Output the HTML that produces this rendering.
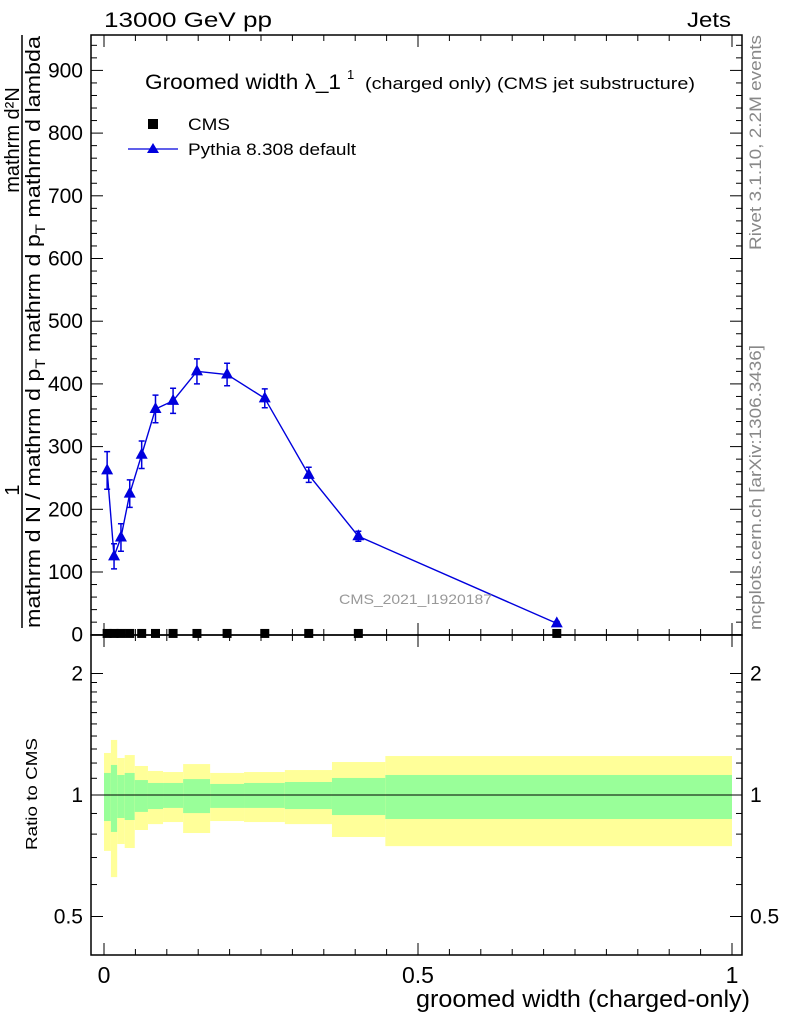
<!DOCTYPE html>
<html><head><meta charset="utf-8"><style>
html,body{margin:0;padding:0;background:#fff}
svg{display:block;font-family:"Liberation Sans",Arial,sans-serif}
</style></head><body>
<svg id="chart" width="786" height="1024" viewBox="0 0 786 1024" xmlns="http://www.w3.org/2000/svg">
<g id="bands"></g>
<g id="axes"></g>
<g id="series"></g>
<text x="104" y="27" font-size="21" textLength="168" lengthAdjust="spacingAndGlyphs">13000 GeV pp</text>
<text x="687" y="27" font-size="21" textLength="44" lengthAdjust="spacingAndGlyphs">Jets</text>
<text x="145" y="89" font-size="21" textLength="196" lengthAdjust="spacingAndGlyphs">Groomed width λ_1</text>
<text x="347" y="79" font-size="13">1</text>
<text x="365" y="89" font-size="17" textLength="330" lengthAdjust="spacingAndGlyphs">(charged only) (CMS jet substructure)</text>
<rect x="148" y="119" width="10" height="10" fill="#000"/>
<text x="188" y="130" font-size="17" textLength="42" lengthAdjust="spacingAndGlyphs">CMS</text>
<line x1="128" y1="149" x2="178" y2="149" stroke="#0000dd" stroke-width="1.3"/>
<polygon points="153,143 159,153 147,153" fill="#0000dd"/>
<text x="188" y="155" font-size="17" textLength="168" lengthAdjust="spacingAndGlyphs">Pythia 8.308 default</text>
<text x="339" y="604" font-size="14" fill="#999" textLength="153" lengthAdjust="spacingAndGlyphs">CMS_2021_I1920187</text>
<text x="416" y="1007" font-size="24" textLength="334" lengthAdjust="spacingAndGlyphs">groomed width (charged-only)</text>
<text transform="translate(37,850) rotate(-90)" font-size="16" textLength="112" lengthAdjust="spacingAndGlyphs">Ratio to CMS</text>
<text transform="translate(761,250) rotate(-90)" font-size="17" fill="#888" textLength="215" lengthAdjust="spacingAndGlyphs">Rivet 3.1.10,  2.2M events</text>
<text transform="translate(761,630) rotate(-90)" font-size="17" fill="#888" textLength="285" lengthAdjust="spacingAndGlyphs">mcplots.cern.ch [arXiv:1306.3436]</text>
<g>
<line x1="22" y1="35" x2="22" y2="628" stroke="#000" stroke-width="1.5"/>
<text transform="translate(19,490) rotate(-90)" font-size="20" text-anchor="middle">1</text>
<text transform="translate(19,140) rotate(-90)" font-size="20" text-anchor="middle">mathrm d²N</text>
<text transform="translate(40,628) rotate(-90)" font-size="20" textLength="592" lengthAdjust="spacingAndGlyphs">mathrm d N / mathrm d p<tspan font-size="14" dy="5">T</tspan><tspan dy="-5"> mathrm d p</tspan><tspan font-size="14" dy="5">T</tspan><tspan dy="-5"> mathrm d lambda</tspan></text>
</g>
</svg>
<script>
// data
const binEdges = [0, 0.011, 0.021, 0.033, 0.049, 0.07, 0.094, 0.126, 0.169, 0.223, 0.288, 0.363, 0.448, 1.0];
const pointX = [0.005, 0.016, 0.027, 0.041, 0.06, 0.082, 0.11, 0.148, 0.196, 0.256, 0.326, 0.405, 0.721];
const pythiaValues = [262, 125, 155, 225, 287, 360, 373, 420, 415, 377, 255, 157, 18];
const pythiaErrors = [30, 20, 22, 22, 22, 22, 20, 20, 18, 15, 12, 8, 3];
const cmsValues = [2, 2, 2, 2, 2, 2, 2, 2, 2, 2, 2, 2, 2];
const greenUp = [1.134,1.187,1.121,1.134,1.089,1.071,1.071,1.095,1.065,1.071,1.077,1.102,1.121];
const greenLo = [0.862,0.810,0.877,0.867,0.908,0.923,0.929,0.902,0.929,0.929,0.923,0.892,0.872];
const yellowUp = [1.271,1.369,1.235,1.256,1.180,1.147,1.140,1.193,1.134,1.140,1.153,1.207,1.249];
const yellowLo = [0.727,0.626,0.756,0.739,0.819,0.847,0.857,0.805,0.862,0.857,0.847,0.787,0.747];
const mainTicks = [0,100,200,300,400,500,600,700,800,900];
const ratioTicks = [0.5, 1, 2];
const ratioTickLabels = ["0.5","1","2"];
const xTicks = [0, 0.5, 1];
const xTickLabels = ["0","0.5","1"];

const NS = "http://www.w3.org/2000/svg";
const L = 91, R = 742, T = 35, MB = 635, RB = 955;
const sx = v => 104 + v * 628;
const sy = v => 634.7 - v * 0.627;
const sr = v => 795 - Math.log2(v) * 121.5;
function mk(tag, attrs, parent) {
  const e = document.createElementNS(NS, tag);
  for (const k in attrs) e.setAttribute(k, attrs[k]);
  parent.appendChild(e);
  return e;
}
const bands = document.getElementById('bands');
const axes = document.getElementById('axes');
const series = document.getElementById('series');

for (let i = 0; i < pointX.length; i++) {
  const x0 = sx(binEdges[i]), x1 = sx(binEdges[i+1]);
  const y = mk('rect', {x: x0, y: sr(yellowUp[i]), width: x1 - x0, height: sr(yellowLo[i]) - sr(yellowUp[i]), fill: '#ffff99'}, bands);
  
  
  const g = mk('rect', {x: x0, y: sr(greenUp[i]), width: x1 - x0, height: sr(greenLo[i]) - sr(greenUp[i]), fill: '#99ff99'}, bands);
  
  
}
const one = mk('line', {x1: L, x2: R, y1: sr(1), y2: sr(1), stroke: '#000', 'stroke-width': 1}, bands);



const f1 = mk('rect', {x: L, y: T, width: R - L, height: MB - T, fill: 'none', stroke: '#000', 'stroke-width': 1.5}, axes);


const f2 = mk('rect', {x: L, y: MB, width: R - L, height: RB - MB, fill: 'none', stroke: '#000', 'stroke-width': 1.5}, axes);



for (let v = 0; v <= 940; v += 20) {
  const y = sy(v); if (y < T) continue;
  const maj = v % 100 === 0, len = maj ? 12 : 6;
  mk('line', {x1: L, x2: L + len, y1: y, y2: y, stroke: '#000', 'stroke-width': 1}, axes);
  mk('line', {x1: R, x2: R - len, y1: y, y2: y, stroke: '#000', 'stroke-width': 1}, axes);
}
mainTicks.forEach(v => {
  const t = mk('text', {x: 83, y: sy(v) + 7, 'font-size': 21, 'text-anchor': 'end'}, axes);
  t.textContent = v;
  
  
});
const rMinor = [0.5,0.6,0.7,0.8,0.9,1,1.1,1.2,1.3,1.4,1.5,1.6,1.7,1.8,1.9,2];
rMinor.forEach(v => {
  const y = sr(v), maj = ratioTicks.includes(v), len = maj ? 12 : 6;
  mk('line', {x1: L, x2: L + len, y1: y, y2: y, stroke: '#000', 'stroke-width': 1}, axes);
  mk('line', {x1: R, x2: R - len, y1: y, y2: y, stroke: '#000', 'stroke-width': 1}, axes);
});
ratioTicks.forEach((v, i) => {
  const t = mk('text', {x: 83, y: sr(v) + 7, 'font-size': 21, 'text-anchor': 'end'}, axes);
  t.textContent = ratioTickLabels[i];
  
  
  const t2 = mk('text', {x: 750, y: sr(v) + 7, 'font-size': 21}, axes);
  t2.textContent = ratioTickLabels[i];
  
  
});
for (let k = 0; k <= 20; k++) {
  const v = k * 0.05, x = sx(v), maj = k % 10 === 0, len = maj ? 12 : 6;
  [[T, 1], [MB, -1], [MB, 1], [RB, -1]].forEach(([y0, d]) => {
    mk('line', {x1: x, x2: x, y1: y0, y2: y0 + d * len, stroke: '#000', 'stroke-width': 1}, axes);
  });
}
xTicks.forEach((v, i) => {
  const t = mk('text', {x: sx(v), y: 983, 'font-size': 23, 'text-anchor': 'middle'}, axes);
  t.textContent = xTickLabels[i];
  
  
});

cmsValues.forEach((v, i) => {
  const r = mk('rect', {x: sx(pointX[i]) - 4.5, y: sy(v) - 4.5, width: 9, height: 9, fill: '#000'}, series);
  
  
});
const pts = pythiaValues.map((v, i) => sx(pointX[i]) + ',' + sy(v)).join(' ');
const pl = mk('polyline', {points: pts, fill: 'none', stroke: '#0000dd', 'stroke-width': 1.4}, series);


pythiaValues.forEach((v, i) => {
  const x = sx(pointX[i]), y = sy(v), e = pythiaErrors[i] * 0.627;
  const eb = mk('path', {d: `M${x},${y-e}V${y+e}M${x-3},${y-e}H${x+3}M${x-3},${y+e}H${x+3}`, stroke: '#0000dd', 'stroke-width': 1.5, fill: 'none'}, series);
  
  
  const tr = mk('polygon', {points: `${x},${y-7} ${x+6},${y+4} ${x-6},${y+4}`, fill: '#0000dd'}, series);
  
  
});
</script>
</body></html>
